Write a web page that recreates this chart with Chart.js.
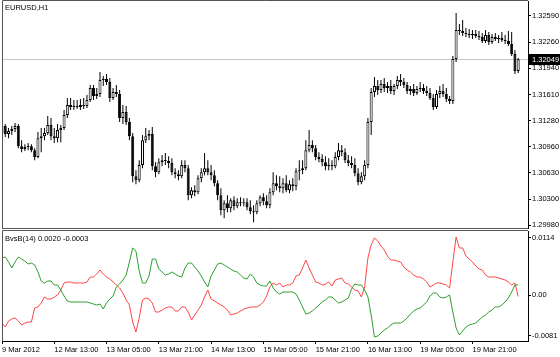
<!DOCTYPE html>
<html>
<head>
<meta charset="utf-8">
<script src="https://cdn.jsdelivr.net/npm/chart.js@4.4.1/dist/chart.umd.min.js"></script>
<style>
  html, body { margin: 0; padding: 0; background: #fff; }
  #wrap { position: relative; width: 560px; height: 357px; overflow: hidden; }
  #priceChart { position: absolute; left: 0; top: 0; }
  #indChart { position: absolute; left: 0; top: 230px; }
</style>
</head>
<body>
<div id="wrap">
  <canvas id="priceChart" width="560" height="230"></canvas>
  <canvas id="indChart" width="560" height="127"></canvas>
</div>
<script>
// EURUSD H1, 9 Mar 2012 21:00 .. 20 Mar 2012 11:00
const opens = [
  1.31128,1.31215,1.31115,1.31153,1.31178,1.31215,1.30965,1.30928,1.30953,1.30965,
  1.30915,1.30828,1.31065,1.3109,1.31128,1.31228,1.3109,1.31065,1.31165,1.3119,
  1.31353,1.31478,1.31453,1.31465,1.31453,1.31478,1.31465,1.3154,1.3169,1.3159,
  1.31615,1.3179,1.31803,1.31765,1.31565,1.3164,1.31615,1.31315,1.3139,1.31265,
  1.3109,1.3059,1.3054,1.30728,1.3104,1.3109,1.31115,1.30715,1.3064,1.30765,
  1.3079,1.30778,1.30753,1.3064,1.30615,1.3059,1.30728,1.3069,1.30353,1.30415,
  1.3039,1.30565,1.3064,1.3069,1.3064,1.30603,1.30503,1.30353,1.30165,1.30253,
  1.3019,1.3029,1.30215,1.30265,1.30253,1.30265,1.30203,1.30153,1.3014,1.30253,
  1.30328,1.30278,1.30228,1.3039,1.30503,1.30465,1.3044,1.30503,1.30415,1.3049,
  1.30465,1.30653,1.30665,1.3069,1.30915,1.30978,1.3094,1.30828,1.30803,1.30765,
  1.30715,1.30728,1.30715,1.30828,1.30915,1.3089,1.3079,1.30753,1.30728,1.30628,
  1.30515,1.3059,1.30728,1.31265,1.3164,1.31715,1.31665,1.3174,1.3169,1.31715,
  1.31653,1.31715,1.3179,1.31765,1.31728,1.31653,1.31678,1.31628,1.31678,1.3169,
  1.31653,1.31628,1.31565,1.31453,1.31615,1.31653,1.31615,1.31553,1.31528,1.32053,
  1.32415,1.32403,1.32378,1.32365,1.32353,1.32365,1.3234,1.32328,1.32278,1.32353,
  1.32265,1.32328,1.32303,1.32315,1.3229,1.32278,1.3224,1.32115,1.31903
];
const highs = [
  1.31265,1.3124,1.3119,1.31215,1.31253,1.3124,1.3104,1.3099,1.31003,1.3099,
  1.3094,1.3114,1.3119,1.3119,1.3134,1.31315,1.3119,1.3124,1.31228,1.31415,
  1.31565,1.31565,1.3154,1.3154,1.31553,1.31565,1.31603,1.31728,1.31728,1.3169,
  1.3189,1.3184,1.31865,1.31815,1.3169,1.31728,1.31665,1.31478,1.31465,1.31315,
  1.31128,1.30665,1.3079,1.31103,1.3119,1.31165,1.31203,1.30765,1.30815,1.30853,
  1.30878,1.3084,1.30815,1.3069,1.30665,1.3079,1.3079,1.30728,1.30453,1.30478,
  1.30603,1.3069,1.30878,1.3079,1.30728,1.30665,1.3054,1.3044,1.3029,1.30353,
  1.30315,1.3034,1.30315,1.30328,1.30315,1.30315,1.3029,1.30228,1.3029,1.30353,
  1.30378,1.30353,1.3044,1.3064,1.30603,1.3059,1.30565,1.30603,1.3054,1.30565,
  1.3069,1.3079,1.3079,1.3104,1.31165,1.3104,1.30978,1.3089,1.30865,1.3084,
  1.30815,1.3079,1.3089,1.31003,1.30978,1.3094,1.30853,1.3084,1.30815,1.3069,
  1.3064,1.3079,1.31315,1.3169,1.31828,1.3179,1.3179,1.31815,1.31765,1.3179,
  1.3174,1.3184,1.31865,1.31815,1.31765,1.31715,1.3174,1.31715,1.31765,1.3174,
  1.31715,1.3169,1.31615,1.31665,1.31715,1.3174,1.3169,1.3159,1.3209,1.32628,
  1.3249,1.3254,1.3244,1.32428,1.32415,1.32415,1.32403,1.32378,1.32415,1.3239,
  1.32365,1.32378,1.32353,1.3239,1.32353,1.32403,1.3239,1.32165,1.32065
];
const lows = [
  1.3109,1.31078,1.31065,1.31103,1.3114,1.3094,1.3089,1.30903,1.30915,1.3089,
  1.3079,1.30815,1.3089,1.3104,1.31103,1.3104,1.31003,1.31015,1.31015,1.31165,
  1.31315,1.31415,1.31415,1.31428,1.31415,1.31428,1.3144,1.31515,1.3154,1.31553,
  1.31578,1.31715,1.31728,1.31515,1.3154,1.31578,1.31265,1.3124,1.31228,1.3104,
  1.30515,1.3049,1.30515,1.3069,1.31003,1.3104,1.30665,1.30578,1.30615,1.30715,
  1.30728,1.3069,1.30603,1.30565,1.3054,1.30565,1.3064,1.3029,1.30315,1.3034,
  1.30365,1.30515,1.30603,1.30603,1.3054,1.30465,1.3029,1.30103,1.30065,1.3014,
  1.3014,1.30165,1.3019,1.30215,1.30215,1.30165,1.30115,1.30015,1.30115,1.30215,
  1.30228,1.3019,1.3019,1.30353,1.30415,1.3039,1.30378,1.3039,1.30378,1.30403,
  1.30415,1.3054,1.30615,1.30665,1.3089,1.3089,1.3079,1.30765,1.30715,1.30665,
  1.30665,1.30665,1.3069,1.3079,1.3084,1.30753,1.30715,1.3069,1.3059,1.30478,
  1.3049,1.3054,1.3069,1.31103,1.31578,1.31603,1.31628,1.3164,1.31628,1.31615,
  1.31603,1.31678,1.31715,1.3169,1.31615,1.31603,1.3159,1.31603,1.3164,1.31615,
  1.3159,1.3154,1.31415,1.31428,1.31565,1.31578,1.31515,1.3149,1.3149,1.32015,
  1.32353,1.3234,1.32328,1.32315,1.32303,1.32315,1.3229,1.32253,1.32253,1.32228,
  1.3224,1.32278,1.32253,1.32265,1.3224,1.32215,1.3209,1.31865,1.31878
];
const closes = [
  1.31215,1.31115,1.31153,1.31178,1.31215,1.30965,1.30928,1.30953,1.30965,1.30915,
  1.30828,1.31065,1.3109,1.31128,1.31228,1.3109,1.31065,1.31165,1.3119,1.31353,
  1.31478,1.31453,1.31465,1.31453,1.31478,1.31465,1.3154,1.3169,1.3159,1.31615,
  1.3179,1.31803,1.31765,1.31565,1.3164,1.31615,1.31315,1.3139,1.31265,1.3109,
  1.3059,1.3054,1.30728,1.3104,1.3109,1.31115,1.30715,1.3064,1.30765,1.3079,
  1.30778,1.30753,1.3064,1.30615,1.3059,1.30728,1.3069,1.30353,1.30415,1.3039,
  1.30565,1.3064,1.3069,1.3064,1.30603,1.30503,1.30353,1.30165,1.30253,1.3019,
  1.3029,1.30215,1.30265,1.30253,1.30265,1.30203,1.30153,1.3014,1.30253,1.30328,
  1.30278,1.30228,1.3039,1.30503,1.30465,1.3044,1.30503,1.30415,1.3049,1.30465,
  1.30653,1.30665,1.3069,1.30915,1.30978,1.3094,1.30828,1.30803,1.30765,1.30715,
  1.30728,1.30715,1.30828,1.30915,1.3089,1.3079,1.30753,1.30728,1.30628,1.30515,
  1.3059,1.30728,1.31265,1.3164,1.31715,1.31665,1.3174,1.3169,1.31715,1.31653,
  1.31715,1.3179,1.31765,1.31728,1.31653,1.31678,1.31628,1.31678,1.3169,1.31653,
  1.31628,1.31565,1.31453,1.31615,1.31653,1.31615,1.31553,1.31528,1.32053,1.32415,
  1.32403,1.32378,1.32365,1.32353,1.32365,1.3234,1.32328,1.32278,1.32353,1.32265,
  1.32328,1.32303,1.32315,1.3229,1.32278,1.3224,1.32115,1.31903,1.32049
];

// BvsB(14) buffers
const bulls = [
  0.0074,0.0076,0.0066,0.0054,0.0066,0.0076,0.0072,0.0068,0.0062,0.0064,
  0.0060,0.0046,0.0028,0.0024,0.0028,0.0028,0.0020,0.0020,0.0010,-0.0002,
  -0.0012,-0.0014,-0.0014,-0.0014,-0.0014,-0.0014,-0.0014,-0.0016,-0.0018,-0.0020,
  -0.0018,-0.0028,-0.0016,-0.0008,-0.0002,0.0016,0.0022,0.0030,0.0040,0.0066,
  0.0094,0.0088,0.0048,0.0024,0.0024,0.0038,0.0072,0.0072,0.0052,0.0046,
  0.0040,0.0042,0.0046,0.0042,0.0038,0.0036,0.0054,0.0064,0.0064,0.0056,
  0.0048,0.0038,0.0026,0.0016,0.0038,0.0050,0.0062,0.0064,0.0060,0.0056,
  0.0052,0.0048,0.0046,0.0040,0.0034,0.0032,0.0042,0.0036,0.0024,0.0020,
  0.0018,0.0018,0.0028,0.0014,0.0006,0.0002,0.0006,0.0006,0.0006,0.0006,
  0.0002,-0.0010,-0.0024,-0.0038,-0.0036,-0.0032,-0.0026,-0.0020,-0.0014,-0.0010,
  -0.0004,-0.0004,-0.0010,-0.0016,-0.0014,-0.0010,-0.0006,0.0012,0.0022,0.0020,
  0.0020,0.0010,-0.0004,-0.0040,-0.0084,-0.0082,-0.0076,-0.0070,-0.0066,-0.0060,
  -0.0056,-0.0056,-0.0056,-0.0052,-0.0046,-0.0038,-0.0032,-0.0028,-0.0026,-0.0020,
  -0.0014,-0.0002,0.0004,0.0004,-0.0004,-0.0006,-0.0004,0.0000,-0.0034,-0.0066,
  -0.0080,-0.0072,-0.0064,-0.0060,-0.0058,-0.0056,-0.0050,-0.0044,-0.0040,-0.0034,
  -0.0030,-0.0024,-0.0024,-0.0020,-0.0014,-0.0006,0.0006,0.0020,0.0020
];
const bears = [
  -0.0056,-0.0064,-0.0052,-0.0048,-0.0046,-0.0052,-0.0060,-0.0056,-0.0054,-0.0054,
  -0.0026,-0.0024,-0.0016,-0.0004,-0.0008,-0.0008,-0.0004,0.0000,0.0010,0.0024,
  0.0026,0.0026,0.0024,0.0024,0.0024,0.0024,0.0026,0.0036,0.0036,0.0042,
  0.0050,0.0042,0.0036,0.0032,0.0026,0.0020,0.0014,0.0004,-0.0010,-0.0020,
  -0.0054,-0.0074,-0.0046,-0.0010,-0.0006,-0.0008,-0.0016,-0.0034,-0.0034,-0.0030,
  -0.0026,-0.0024,-0.0024,-0.0032,-0.0032,-0.0024,-0.0024,-0.0034,-0.0050,-0.0040,
  -0.0030,-0.0020,-0.0004,0.0010,-0.0008,-0.0012,-0.0016,-0.0020,-0.0024,-0.0030,
  -0.0040,-0.0038,-0.0036,-0.0032,-0.0028,-0.0026,-0.0024,-0.0024,-0.0024,-0.0020,
  -0.0014,-0.0002,0.0016,0.0024,0.0020,0.0024,0.0016,0.0020,0.0020,0.0024,
  0.0038,0.0040,0.0054,0.0070,0.0054,0.0040,0.0026,0.0024,0.0020,0.0022,
  0.0026,0.0018,0.0030,0.0032,0.0034,0.0024,0.0022,0.0016,0.0010,0.0008,
  -0.0004,0.0016,0.0074,0.0100,0.0114,0.0108,0.0098,0.0090,0.0078,0.0070,
  0.0070,0.0068,0.0066,0.0056,0.0050,0.0046,0.0040,0.0036,0.0036,0.0032,
  0.0026,0.0016,0.0020,0.0024,0.0024,0.0022,0.0020,0.0014,0.0066,0.0116,
  0.0094,0.0094,0.0078,0.0072,0.0066,0.0058,0.0052,0.0050,0.0040,0.0036,
  0.0036,0.0036,0.0034,0.0032,0.0030,0.0026,0.0020,0.0024,-0.0003
];

const priceTicks = [1.32590, 1.32260, 1.31940, 1.31610, 1.31280, 1.30960, 1.30630, 1.30300, 1.29980];
const indTicks = [0.0114, 0, -0.0081];
const timeTickBars = [0, 16, 32, 48, 64, 80, 96, 112, 128, 144];
const timeTickLabels = ['9 Mar 2012', '12 Mar 13:00', '13 Mar 05:00', '13 Mar 21:00', '14 Mar 13:00',
  '15 Mar 05:00', '15 Mar 21:00', '16 Mar 13:00', '19 Mar 05:00', '19 Mar 21:00'];
const lastPrice = 1.32049;

const FONT = '"Liberation Sans", Arial, sans-serif';
Chart.defaults.font.family = FONT;
Chart.defaults.font.size = 7.5;
Chart.defaults.color = '#000';

// bar slots, a few empty ones on the right like the terminal's chart shift
const slots = Array.from({ length: opens.length + 3 }, (_, i) => i);
const AXIS_W = 32;

function fixAxisWidth(scale) {
  scale.width = AXIS_W;
  scale.paddingTop = 0;
  scale.paddingBottom = 0;
}

const xHidden = {
  type: 'category',
  offset: false,
  display: false,
  grid: { offset: false }
};

const frameTop = {
  id: 'frameTop',
  beforeDatasetsDraw(chart) {
    const { ctx, chartArea: a } = chart;
    const y = Math.round(chart.scales.y.getPixelForValue(lastPrice)) + 0.5;
    ctx.save();
    ctx.strokeStyle = '#c8c8c8';
    ctx.lineWidth = 1;
    ctx.beginPath();
    ctx.moveTo(a.left, y);
    ctx.lineTo(a.right, y);
    ctx.stroke();
    ctx.restore();
  },
  afterDraw(chart) {
    const { ctx, chartArea: a } = chart;
    ctx.save();
    ctx.strokeStyle = '#555';
    ctx.lineWidth = 1;
    ctx.beginPath();
    ctx.moveTo(a.left + 0.5, a.bottom + 0.5);
    ctx.lineTo(a.left + 0.5, 0.5);
    ctx.lineTo(a.right, 0.5);
    ctx.moveTo(a.left, a.bottom + 0.5);
    ctx.lineTo(a.right, a.bottom + 0.5);
    ctx.stroke();

    ctx.font = '7.5px ' + FONT;
    ctx.fillStyle = '#000';
    ctx.textBaseline = 'middle';
    ctx.fillText('EURUSD,H1', 5, 8);

    const y = Math.round(chart.scales.y.getPixelForValue(lastPrice));
    ctx.fillStyle = '#000';
    ctx.fillRect(a.right + 1, y - 5, chart.width - a.right - 1, 11);
    ctx.fillStyle = '#fff';
    ctx.fillText(lastPrice.toFixed(5), a.right + 4, y + 0.5);
    ctx.restore();
  }
};

const frameInd = {
  id: 'frameInd',
  afterDraw(chart) {
    const { ctx, chartArea: a } = chart;
    ctx.save();
    ctx.strokeStyle = '#555';
    ctx.lineWidth = 1;
    ctx.beginPath();
    ctx.moveTo(a.left + 0.5, a.bottom);
    ctx.lineTo(a.left + 0.5, 0.5);
    ctx.lineTo(a.right, 0.5);
    ctx.stroke();
    ctx.font = '7.5px ' + FONT;
    ctx.fillStyle = '#000';
    ctx.textBaseline = 'middle';
    const last = bulls.length - 1;
    ctx.fillText('BvsB(14) ' + bulls[last].toFixed(4) + ' ' + bears[last].toFixed(4), 5, 9);
    ctx.restore();
  }
};

new Chart(document.getElementById('priceChart'), {
  type: 'bar',
  data: {
    labels: slots,
    datasets: [
      {
        label: 'body',
        data: opens.map((o, i) => [o, closes[i]]),
        backgroundColor: opens.map((o, i) => closes[i] >= o ? '#ffffff' : '#000000'),
        borderColor: '#000',
        borderWidth: 1,
        borderSkipped: false,
        barThickness: 3,
        minBarLength: 1,
        inflateAmount: 0,
        grouped: false,
        order: 0
      },
      {
        label: 'wick',
        data: lows.map((l, i) => [l, highs[i]]),
        backgroundColor: '#000',
        borderWidth: 0,
        barThickness: 1,
        inflateAmount: 0,
        grouped: false,
        order: 1
      }
    ]
  },
  options: {
    responsive: false,
    animation: false,
    layout: { padding: { left: 2, top: 1, right: 0, bottom: 2 } },
    plugins: { legend: { display: false }, tooltip: { enabled: false } },
    scales: {
      x: xHidden,
      y: {
        position: 'right',
        min: 1.29943,
        max: 1.32777,
        afterBuildTicks: (scale) => { scale.ticks = priceTicks.map(v => ({ value: v })); },
        afterFit: fixAxisWidth,
        ticks: { callback: (v) => v.toFixed(5), padding: 1, font: { size: 7.5 } },
        grid: { drawOnChartArea: false, tickLength: 3, color: '#000' },
        border: { display: true, color: '#000' }
      }
    }
  },
  plugins: [frameTop]
});

new Chart(document.getElementById('indChart'), {
  type: 'line',
  data: {
    labels: slots,
    datasets: [
      { label: 'bulls', data: bulls, borderColor: '#2f9e2f', borderWidth: 1, pointRadius: 0, tension: 0 },
      { label: 'bears', data: bears, borderColor: '#ff4646', borderWidth: 1, pointRadius: 0, tension: 0 }
    ]
  },
  options: {
    responsive: false,
    animation: false,
    layout: { padding: { left: 2, top: 1, right: 0, bottom: 0 } },
    plugins: { legend: { display: false }, tooltip: { enabled: false } },
    scales: {
      x: {
        type: 'category',
        offset: false,
        afterBuildTicks: (scale) => { scale.ticks = timeTickBars.map(v => ({ value: v })); },
        afterFit: (scale) => { scale.height = 16; scale.paddingLeft = 0; scale.paddingRight = 0; },
        ticks: {
          autoSkip: false,
          maxRotation: 0,
          align: 'start',
          padding: 1,
          callback: (v) => timeTickLabels[timeTickBars.indexOf(v)]
        },
        grid: { drawOnChartArea: false, tickLength: 3, color: '#000', offset: false },
        border: { display: true, color: '#000' }
      },
      y: {
        position: 'right',
        min: -0.0092,
        max: 0.0128,
        afterBuildTicks: (scale) => { scale.ticks = indTicks.map(v => ({ value: v })); },
        afterFit: fixAxisWidth,
        ticks: { callback: (v) => v === 0 ? '0.00' : v.toFixed(4), padding: 1 },
        grid: { drawOnChartArea: false, tickLength: 3, color: '#000' },
        border: { display: true, color: '#000' }
      }
    }
  },
  plugins: [frameInd]
});
</script>
</body>
</html>
